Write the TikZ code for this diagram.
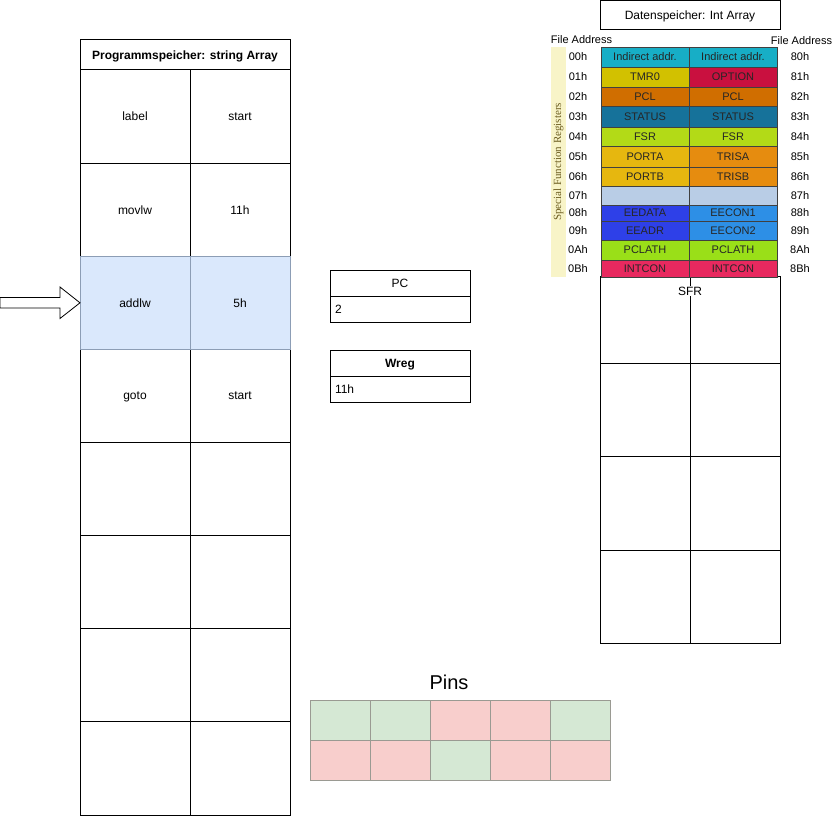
\documentclass[tikz,border=0pt]{standalone}
\usepackage{fontspec}
\setmainfont{Liberation Sans}
\newfontfamily\bandserif{Liberation Serif}
\usetikzlibrary{positioning, calc}

\newcommand\boxfont{\fontsize{12}{14}\selectfont}
\newcommand\regfont{\fontsize{11}{13}\selectfont}

\definecolor{hlfill}{HTML}{DAE8FC}
\definecolor{hldraw}{HTML}{8C9DB5}
\definecolor{onfill}{HTML}{D5E8D4}
\definecolor{offfill}{HTML}{F8CECC}
\definecolor{pinline}{HTML}{9A9A92}
\definecolor{bandfill}{HTML}{F8F4C8}
\definecolor{bandtext}{HTML}{6E5F22}
\definecolor{cInd}{HTML}{17AEC6}
\definecolor{cTmr}{HTML}{D2C100}
\definecolor{cOpt}{HTML}{C9103F}
\definecolor{cPcl}{HTML}{D06E00}
\definecolor{cSta}{HTML}{16729A}
\definecolor{cFsr}{HTML}{B3DA17}
\definecolor{cPort}{HTML}{E6B70F}
\definecolor{cTris}{HTML}{E68C0F}
\definecolor{cFree}{HTML}{B9CDE6}
\definecolor{cEed}{HTML}{2E40E8}
\definecolor{cEec}{HTML}{2D8FE6}
\definecolor{cLath}{HTML}{9ADF18}
\definecolor{cInt}{HTML}{E8295F}

\begin{document}
\begin{tikzpicture}[x=1pt, y=-1pt, line width=1pt,
  every node/.style={outer sep=0pt, inner sep=0pt, font=\boxfont},
  cell/.style={draw, minimum height=93.125pt, text depth=0pt},
  head/.style={draw, minimum width=140pt, minimum height=26pt, text depth=0pt},
  val/.style={draw, text width=130pt, inner xsep=5pt, minimum height=26pt, align=left, text depth=0pt},
  reg/.style={draw=black!75, line width=0.6pt, minimum width=88pt, font=\regfont, text=black!85, text depth=0pt},
  adr/.style={font=\regfont, text depth=0pt},
  pinon/.style={draw=pinline, fill=onfill, minimum width=60pt, minimum height=40pt},
  pinoff/.style={draw=pinline, fill=offfill, minimum width=60pt, minimum height=40pt}]
  \useasboundingbox (0,0) rectangle (835,816);

  % program memory
  \node[draw, minimum width=210pt, minimum height=30pt, text depth=0pt, font=\boxfont\bfseries] (prog) at (185,55) {Programmspeicher: string Array};
  \foreach \i/\a/\b in {0/label/start,1/movlw/11h,3/goto/start,4//,5//,6//,7//}{
    \node[cell, minimum width=110pt] (op\i) at (135,{116.56+93.125*\i}) {\a};
    \node[cell, minimum width=100pt] (arg\i) at (240,{116.56+93.125*\i}) {\b};
  }
  \node[cell, minimum width=110pt, draw=hldraw, fill=hlfill] (op2) at (135,302.81) {addlw};
  \node[cell, minimum width=100pt, draw=hldraw, fill=hlfill] (arg2) at (240,302.81) {5h};

  \coordinate (src) at (0,302.8);
  \draw[fill=white, line width=0.8pt] (src |- 0,297.5) -- (60,297.5) -- (60,287) -- (op2.west)
    -- (60,318.5) -- (60,308) -- (src |- 0,308) -- cycle;

  % registers
  \node[head] (pc) at (400,283.5) {PC};
  \node[val, below=0pt of pc] (pcval) {2};
  \node[head, font=\boxfont\bfseries, below=28pt of pcval] (wreg) {Wreg};
  \node[val, below=0pt of wreg] (wregval) {11h};

  % data memory
  \node[draw, minimum width=180pt, minimum height=29pt, text depth=0pt] (daten) at (690,15.5) {Datenspeicher: Int Array};
  \foreach \i/\y/\h in {0/319.75/87.5,1/410/93,2/503.25/93.5,3/596.5/93}{
    \node[draw, minimum width=90pt, minimum height=\h pt] (m\i) at (645,\y) {};
    \node[draw, minimum width=90pt, minimum height=\h pt] (n\i) at (735,\y) {};
  }
  \node[adr] (fal) at (581.5,40) {File Address};
  \node[adr] (far) at (801.5,41) {File Address};
  \node[fill=bandfill, rotate=90, minimum width=230pt, minimum height=15pt, text=bandtext,
        font=\bandserif\fontsize{11}{12}\selectfont] (band) at (558.5,162) {Special Function Registers};
  \foreach \y/\h/\lo/\a/\ca/\b/\cb/\hi in {
      57/20/00h/Indirect addr./cInd/Indirect addr./cInd/80h,
      77/20/01h/TMR0/cTmr/OPTION/cOpt/81h,
      96.5/19/02h/PCL/cPcl/PCL/cPcl/82h,
      116.5/21/03h/STATUS/cSta/STATUS/cSta/83h,
      136.5/19/04h/FSR/cFsr/FSR/cFsr/84h,
      156.5/21/05h/PORTA/cPort/TRISA/cTris/85h,
      176.5/19/06h/PORTB/cPort/TRISB/cTris/86h,
      195.5/19/07h//cFree//cFree/87h,
      213/16/08h/EEDATA/cEed/EECON1/cEec/88h,
      230.5/19/09h/EEADR/cEed/EECON2/cEec/89h,
      250/20/0Ah/PCLATH/cLath/PCLATH/cLath/8Ah,
      268.5/17/0Bh/INTCON/cInt/INTCON/cInt/8Bh}{
    \node[adr] (a\lo) at (578,\y) {\lo};
    \node[reg, fill=\ca, minimum height=\h pt] (L\lo) at (645,\y) {\a};
    \node[reg, fill=\cb, minimum height=\h pt] (R\lo) at (733,\y) {\b};
    \node[adr] (a\hi) at (800,\y) {\hi};
  }
  \node[fill=white, inner sep=1pt, text depth=0pt] (sfr) at (690,291) {SFR};

  % pins
  \node[font=\fontsize{20}{24}\selectfont] (pins) at (449,682) {Pins};
  \foreach \c/\up/\dn in {0/pinon/pinoff,1/pinon/pinoff,2/pinoff/pinon,3/pinoff/pinoff,4/pinon/pinoff}{
    \node[\up] (pa\c) at ({340+60*\c},720) {};
    \node[\dn] (pb\c) at ({340+60*\c},760) {};
  }
\end{tikzpicture}
\end{document}
